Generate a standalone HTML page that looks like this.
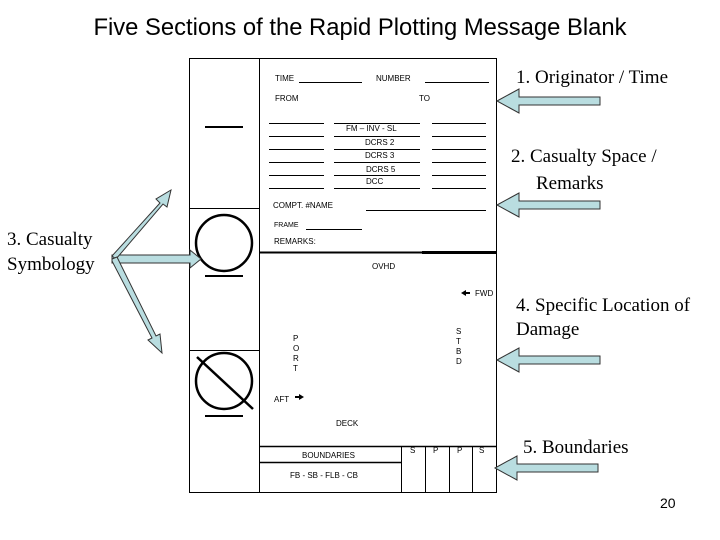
<!DOCTYPE html>
<html><head><meta charset="utf-8"><style>
html,body{margin:0;padding:0;background:#fff;width:720px;height:540px;overflow:hidden}
svg{display:block}
.s{font-family:"Liberation Sans",Arial,sans-serif;font-size:8px;fill:#000}
.r{font-family:"Liberation Serif","Times New Roman",serif;font-size:19px;fill:#000}
</style></head><body>
<svg width="720" height="540" viewBox="0 0 720 540" xmlns="http://www.w3.org/2000/svg">
<text x="360" y="35" text-anchor="middle" font-family="Liberation Sans, Arial, sans-serif" font-size="23.8">Five Sections of the Rapid Plotting Message Blank</text>
<g stroke="#000" fill="none" stroke-width="1">
<rect x="189.5" y="58.5" width="307" height="434"/>
<line x1="259.5" y1="58" x2="259.5" y2="492"/>
<line x1="189" y1="208.5" x2="259" y2="208.5"/>
<line x1="189" y1="350.5" x2="260" y2="350.5"/>
<line x1="299" y1="82.5" x2="362" y2="82.5"/>
<line x1="425" y1="82.5" x2="489" y2="82.5"/>
<g>
<line x1="269" y1="123.5" x2="324" y2="123.5"/><line x1="334" y1="123.5" x2="420" y2="123.5"/><line x1="432" y1="123.5" x2="486" y2="123.5"/>
<line x1="269" y1="136.5" x2="324" y2="136.5"/><line x1="334" y1="136.5" x2="420" y2="136.5"/><line x1="432" y1="136.5" x2="486" y2="136.5"/>
<line x1="269" y1="149.5" x2="324" y2="149.5"/><line x1="334" y1="149.5" x2="420" y2="149.5"/><line x1="432" y1="149.5" x2="486" y2="149.5"/>
<line x1="269" y1="162.5" x2="324" y2="162.5"/><line x1="334" y1="162.5" x2="420" y2="162.5"/><line x1="432" y1="162.5" x2="486" y2="162.5"/>
<line x1="269" y1="175.5" x2="324" y2="175.5"/><line x1="334" y1="175.5" x2="420" y2="175.5"/><line x1="432" y1="175.5" x2="486" y2="175.5"/>
<line x1="269" y1="188.5" x2="324" y2="188.5"/><line x1="334" y1="188.5" x2="420" y2="188.5"/><line x1="432" y1="188.5" x2="486" y2="188.5"/>
</g>
<line x1="366" y1="210.5" x2="486" y2="210.5"/>
<line x1="306" y1="229.5" x2="362" y2="229.5"/>
<line x1="259" y1="252.5" x2="497" y2="252.5" stroke-width="2"/>
<line x1="422" y1="252.5" x2="497" y2="252.5" stroke-width="3"/>
<line x1="259" y1="446.5" x2="497" y2="446.5" stroke-width="1.5"/>
<line x1="259" y1="462.5" x2="401" y2="462.5" stroke-width="1.5"/>
<line x1="401.5" y1="446" x2="401.5" y2="492"/>
<line x1="425.5" y1="446" x2="425.5" y2="492"/>
<line x1="449.5" y1="446" x2="449.5" y2="492"/>
<line x1="472.5" y1="446" x2="472.5" y2="492"/>
<line x1="205" y1="127" x2="243" y2="127" stroke-width="2"/>
<circle cx="224" cy="243" r="28" stroke-width="2.5"/>
<line x1="205" y1="276" x2="243" y2="276" stroke-width="2"/>
<circle cx="224" cy="381" r="28" stroke-width="2.5"/>
<line x1="197" y1="357" x2="253" y2="409" stroke-width="2.5"/>
<line x1="205" y1="416" x2="243" y2="416" stroke-width="2"/>
</g>
<g class="s">
<text x="275" y="81">TIME</text>
<text x="376" y="81">NUMBER</text>
<text x="275" y="101">FROM</text>
<text x="419" y="101">TO</text>
<text x="346" y="131">FM – INV - SL</text>
<text x="365" y="145">DCRS 2</text>
<text x="365" y="158">DCRS 3</text>
<text x="366" y="172">DCRS 5</text>
<text x="366" y="184">DCC</text>
<text x="273" y="208">COMPT. #NAME</text>
<text x="274" y="227" font-size="7">FRAME</text>
<text x="274" y="244">REMARKS:</text>
<text x="372" y="269">OVHD</text>
<text x="475" y="296">FWD</text>
<text x="274" y="402">AFT</text>
<text x="336" y="426">DECK</text>
<text x="302" y="458">BOUNDARIES</text>
<text x="290" y="478">FB  -  SB  -  FLB  -  CB</text>
<text x="410" y="453">S</text><text x="433" y="453">P</text><text x="457" y="453">P</text><text x="479" y="453">S</text>
<text x="293" y="341">P</text><text x="293" y="351">O</text><text x="293" y="361">R</text><text x="293" y="371">T</text>
<text x="456" y="334">S</text><text x="456" y="344">T</text><text x="456" y="354">B</text><text x="456" y="364">D</text>
</g>
<path d="M461 293 l5 -3 v2 h4 v2 h-4 v2 z" fill="#000"/>
<path d="M304 397 l-5 -3 v2 h-4 v2 h4 v2 z" fill="#000"/>
<g fill="#b9dde0" stroke="#333" stroke-width="1">
<path d="M497 101 l22 -12 v8 h81 v8 h-81 v8 z"/>
<path d="M497 205 l22 -12 v8 h81 v8 h-81 v8 z"/>
<path d="M497 360 l22 -12 v8 h81 v8 h-81 v8 z"/>
<path d="M495 468 l22 -12 v8 h81 v8 h-81 v8 z"/>
<path d="M112 255 h78 v-5 l11 9 l-11 9 v-5 h-78 z"/>
<path d="M112 256 L160 203 l-4 -4 L171 190 L167 207 l-4 -3 L116 259 z"/>
<path d="M112 259 l5 -2 L156 336 l4 -2 L162 353 L148 340 l4 -2 L112 261 z"/>
</g>
<text class="r" x="516" y="83">1. Originator / Time</text>
<text class="r" x="511" y="162">2. Casualty Space /</text>
<text class="r" x="536" y="189">Remarks</text>
<text class="r" x="7" y="245">3. Casualty</text>
<text class="r" x="7" y="270">Symbology</text>
<text class="r" x="516" y="311">4. Specific Location of</text>
<text class="r" x="516" y="335">Damage</text>
<text class="r" x="523" y="453">5. Boundaries</text>
<text x="660" y="508" font-family="Liberation Sans, Arial, sans-serif" font-size="14">20</text>
</svg>
</body></html>
